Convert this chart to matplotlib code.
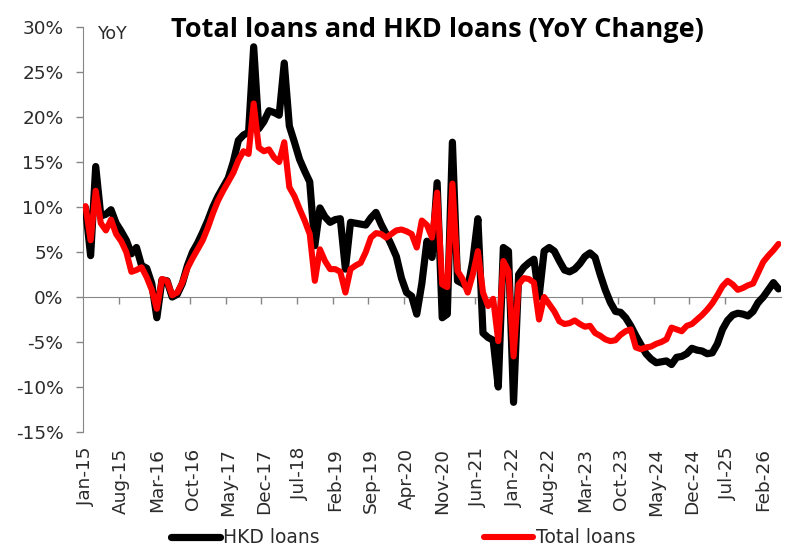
import numpy as np
import matplotlib
matplotlib.use("Agg")
import matplotlib.pyplot as plt
from matplotlib.ticker import FuncFormatter

# YoY change, % — monthly from Jan-15
hkd_loans = [
    9.9, 4.6, 14.5, 9.0, 9.2, 9.7, 8.2, 7.3, 6.3, 4.8, 5.5, 3.5,
    3.2, 1.5, -2.3, 1.9, 1.8, 0.0, 0.3, 1.5, 3.5, 5.0, 6.0, 7.2,
    8.5, 10.0, 11.2, 12.2, 13.2, 15.0, 17.4, 18.0, 18.3, 27.8, 18.7, 19.5,
    20.7, 20.5, 20.2, 26.0, 19.0, 17.2, 15.3, 14.0, 12.8, 5.7, 9.9, 8.9,
    8.3, 8.6, 8.7, 3.1, 8.3, 8.2, 8.1, 8.0, 8.8, 9.4, 8.1, 7.0,
    5.8, 4.5, 2.1, 0.5, 0.1, -1.9, 1.5, 6.2, 4.4, 12.7, -2.3, -1.9,
    17.2, 1.8, 1.5, 1.0, 4.0, 8.7, -4.0, -4.5, -4.8, -10.0, 5.5, 5.1,
    -11.7, 2.5, 3.3, 3.8, 4.2, 0.0, 5.1, 5.5, 5.1, 4.0, 3.0, 2.8,
    3.1, 3.7, 4.5, 4.9, 4.4, 2.5, 0.8, -0.6, -1.6, -1.7, -2.3, -3.2,
    -4.3, -5.3, -6.3, -6.9, -7.3, -7.2, -7.1, -7.5, -6.7, -6.6, -6.3, -5.7,
    -5.9, -6.0, -6.3, -6.2, -5.2, -3.6, -2.6, -2.0, -1.8, -1.9, -2.1, -1.6,
    -0.6, 0.0, 0.8, 1.6, 0.9,
]
total_loans = [
    10.1, 6.3, 11.8, 8.2, 7.4, 8.6, 7.0, 6.2, 5.0, 2.8, 3.0, 3.3,
    2.2, 0.8, -1.3, 2.0, 1.8, 0.2, 0.5, 1.6, 3.2, 4.3, 5.3, 6.3,
    7.7, 9.3, 10.7, 11.8, 12.8, 13.8, 15.2, 16.2, 15.9, 21.5, 16.6, 16.2,
    16.4, 15.5, 15.0, 17.2, 12.2, 11.2, 9.8, 8.5, 7.0, 1.8, 5.3, 4.0,
    3.1, 3.1, 2.8, 0.5, 3.1, 3.5, 3.8, 5.0, 6.6, 7.1, 7.0, 6.6,
    7.0, 7.4, 7.5, 7.3, 7.0, 5.5, 8.5, 8.0, 6.6, 11.6, 1.4, 1.1,
    12.6, 2.9, 2.0, 0.5, 2.5, 5.1, 0.5, -1.0, -0.2, -4.9, 4.0, 2.9,
    -6.6, 1.4, 2.1, 2.0, 1.6, -2.5, 0.0, -0.8, -1.6, -2.7, -3.0, -2.9,
    -2.6, -3.0, -3.3, -3.2, -4.0, -4.3, -4.7, -4.9, -4.8, -4.2, -3.8, -3.6,
    -5.6, -5.8, -5.6, -5.5, -5.2, -5.0, -4.7, -3.4, -3.6, -3.8, -3.2, -3.0,
    -2.5, -2.0, -1.4, -0.7, 0.2, 1.2, 1.8, 1.4, 0.8, 1.0, 1.3, 1.5,
    2.7, 3.9, 4.6, 5.2, 5.9,
]
tick_labels = ["Jan-15", "Aug-15", "Mar-16", "Oct-16", "May-17", "Dec-17",
               "Jul-18", "Feb-19", "Sep-19", "Apr-20", "Nov-20", "Jun-21",
               "Jan-22", "Aug-22", "Mar-23", "Oct-23", "May-24", "Dec-24",
               "Jul-25", "Feb-26"]
tick_step = 7

plt.rcParams["font.family"] = ["DejaVu Sans"]
AXIS_GREY = "#868686"
TEXT = "#2b2b2b"

months = np.arange(len(hkd_loans))

fig = plt.figure(figsize=(7.85, 5.47), dpi=100)
ax = fig.add_axes([0.1057, 0.2102, 0.8893, 0.7404])

ax.plot(months, hkd_loans, color="black", lw=5.2, solid_joinstyle="round",
        solid_capstyle="round", label="HKD loans", zorder=3)
ax.plot(months, total_loans, color="#ff0000", lw=4.4, solid_joinstyle="round",
        solid_capstyle="round", label="Total loans", zorder=4)

ax.set_xlim(-0.5, len(months) - 0.5)
ax.set_ylim(-15, 30)
ax.set_yticks(np.arange(-15, 31, 5))
ax.yaxis.set_major_formatter(FuncFormatter(lambda v, _: f"{v:.0f}%"))
ax.tick_params(axis="y", direction="out", length=5, width=1, color=AXIS_GREY,
               labelsize=13.3, labelcolor=TEXT, pad=9)

# category axis crosses at 0%, tick marks between categories
ax.spines["bottom"].set_position(("data", 0))
ax.spines["bottom"].set_color(AXIS_GREY)
ax.spines["left"].set_color(AXIS_GREY)
ax.spines["top"].set_visible(False)
ax.spines["right"].set_visible(False)
ax.set_xticks(months[tick_step::tick_step] - 0.5)
ax.set_xticklabels([])
ax.tick_params(axis="x", direction="out", length=5, width=1, color=AXIS_GREY)

# labels sit low, below the plot area
sec = ax.secondary_xaxis("bottom")
sec.set_xticks(months[::tick_step], tick_labels)
sec.spines["bottom"].set_visible(False)
sec.tick_params(axis="x", length=0, pad=11.5, labelsize=13.3,
                labelcolor=TEXT, labelrotation=90)

ax.text(0.022, 1.005, "YoY", transform=ax.transAxes, fontsize=12.5,
        color=TEXT, va="top", ha="left")
fig.text(0.557, 0.945, "Total loans and HKD loans (YoY Change)",
         fontsize=19.5, fontweight="bold", family="Open Sans",
         ha="center", va="center", color="black")

fig.legend(loc="center", bbox_to_anchor=(0.514, 0.0165), ncol=2,
           frameon=False, fontsize=13.5, handlelength=2.6,
           handletextpad=0.15, columnspacing=8.8, labelcolor=TEXT)

plt.savefig("out.png", dpi=100)
plt.close()
